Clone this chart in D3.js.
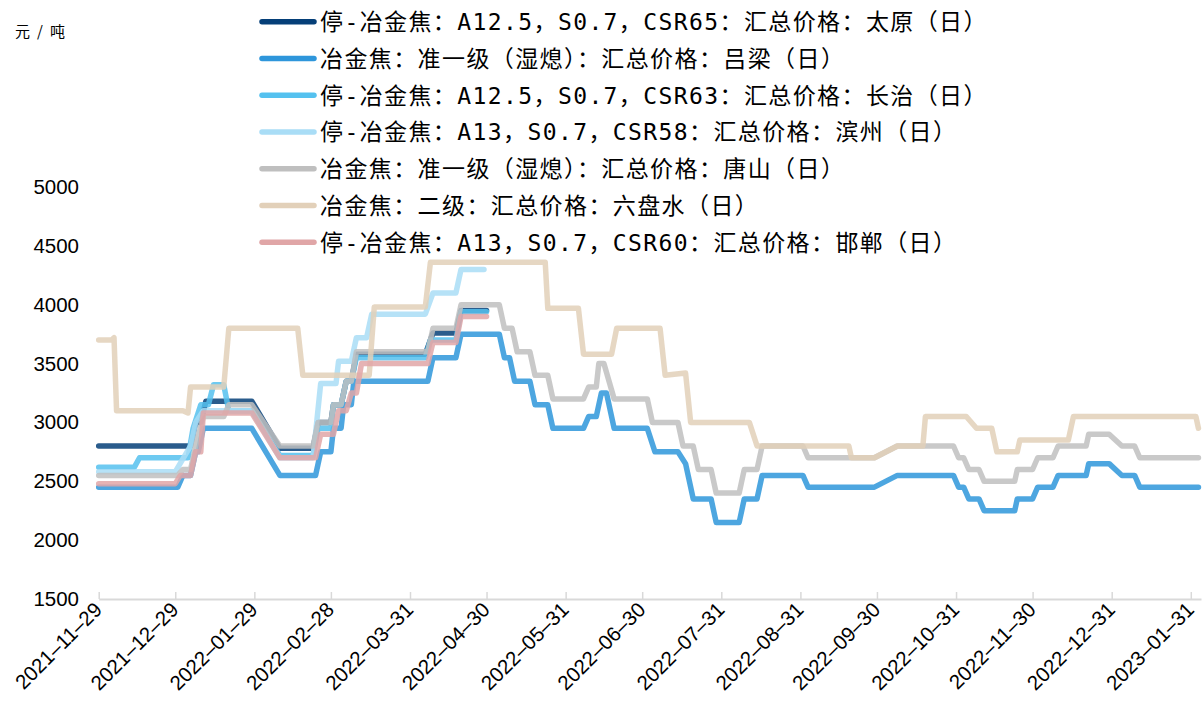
<!DOCTYPE html>
<html>
<head>
<meta charset="utf-8">
<script src="https://cdn.jsdelivr.net/npm/d3@7"></script>
<style>
  html, body { margin: 0; padding: 0; background: #ffffff; }
  svg { display: block; }
</style>
</head>
<body>
<svg id="chart" width="1202" height="712"></svg>
<script>
// ---------- data ----------
const seriesNames = [
  "停-冶金焦：A12.5，S0.7，CSR65：汇总价格：太原（日）",
  "冶金焦：准一级（湿熄）：汇总价格：吕梁（日）",
  "停-冶金焦：A12.5，S0.7，CSR63：汇总价格：长治（日）",
  "停-冶金焦：A13，S0.7，CSR58：汇总价格：滨州（日）",
  "冶金焦：准一级（湿熄）：汇总价格：唐山（日）",
  "冶金焦：二级：汇总价格：六盘水（日）",
  "停-冶金焦：A13，S0.7，CSR60：汇总价格：邯郸（日）"
];
const seriesColors = ["#053f78", "#2e96db", "#55c1ef", "#a9ddf6", "#bfbfbf", "#e2d0b9", "#e0a6a7"];

const tickDates = ["2021-11-29","2021-12-29","2022-01-29","2022-02-28","2022-03-31","2022-04-30",
  "2022-05-31","2022-06-30","2022-07-31","2022-08-31","2022-09-30","2022-10-31","2022-11-30",
  "2022-12-31","2023-01-31"];
const yTicks = [1500, 2000, 2500, 3000, 3500, 4000, 4500, 5000];
const yUnit = "元/吨";

const taiyuan = [
  ["2021-11-29",2800],["2022-01-04",2800],["2022-01-06",3000],["2022-01-08",3000],["2022-01-10",3180],
  ["2022-01-28",3180],["2022-02-08",2780],["2022-02-21",2780],["2022-02-23",3000],["2022-02-28",3000],
  ["2022-03-01",3150],["2022-03-04",3150],["2022-03-06",3350],["2022-03-08",3350],["2022-03-10",3580],
  ["2022-04-06",3580],["2022-04-09",3760],["2022-04-18",3760],["2022-04-20",3950],["2022-04-30",3950]
];
const lvliang = [
  ["2021-11-29",2450],["2021-12-30",2450],["2022-01-01",2550],["2022-01-04",2550],["2022-01-06",2750],
  ["2022-01-07",2750],["2022-01-09",2950],["2022-01-28",2950],["2022-02-08",2550],["2022-02-22",2550],
  ["2022-02-24",2750],["2022-02-28",2750],["2022-03-01",2950],["2022-03-04",2950],["2022-03-05",3150],
  ["2022-03-08",3150],["2022-03-09",3350],["2022-04-07",3350],["2022-04-09",3550],["2022-04-18",3550],
  ["2022-04-20",3750],["2022-05-05",3750],["2022-05-07",3550],["2022-05-09",3550],["2022-05-11",3350],
  ["2022-05-17",3350],["2022-05-19",3150],["2022-05-24",3150],["2022-05-26",2950],["2022-06-07",2950],
  ["2022-06-09",3050],["2022-06-12",3050],["2022-06-14",3250],["2022-06-16",3250],["2022-06-19",2950],
  ["2022-07-02",2950],["2022-07-05",2750],["2022-07-14",2750],["2022-07-17",2650],["2022-07-18",2550],
  ["2022-07-20",2350],["2022-07-27",2350],["2022-07-29",2150],["2022-08-07",2150],["2022-08-09",2350],
  ["2022-08-14",2350],["2022-08-16",2550],["2022-09-01",2550],["2022-09-03",2450],["2022-09-29",2450],
  ["2022-10-08",2550],["2022-10-30",2550],["2022-11-01",2450],["2022-11-03",2450],["2022-11-05",2350],
  ["2022-11-09",2350],["2022-11-11",2250],["2022-11-23",2250],["2022-11-24",2350],["2022-11-30",2350],
  ["2022-12-02",2450],["2022-12-08",2450],["2022-12-10",2550],["2022-12-21",2550],["2022-12-22",2650],
  ["2022-12-30",2650],["2023-01-04",2550],["2023-01-09",2550],["2023-01-11",2450],["2023-02-03",2450]
];
const changzhi = [
  ["2021-11-29",2620],["2021-12-13",2620],["2021-12-15",2700],["2022-01-03",2700],["2022-01-05",2950],
  ["2022-01-08",3150],["2022-01-11",3150],["2022-01-13",3320],["2022-01-17",3320],["2022-01-19",3100],
  ["2022-01-28",3100],["2022-02-08",2720],["2022-02-21",2720],["2022-02-23",2950],["2022-02-28",2950],
  ["2022-03-01",3150],["2022-03-04",3150],["2022-03-06",3350],["2022-03-08",3350],["2022-03-10",3550],
  ["2022-04-06",3550],["2022-04-08",3700],["2022-04-18",3700],["2022-04-20",3940],["2022-04-30",3940]
];
const binzhou = [
  ["2021-11-29",2580],["2021-12-29",2580],["2022-01-04",2800],["2022-01-06",3000],["2022-01-09",3100],
  ["2022-01-28",3100],["2022-02-08",2700],["2022-02-21",2700],["2022-02-24",3330],["2022-03-02",3330],
  ["2022-03-03",3520],["2022-03-08",3520],["2022-03-10",3720],["2022-03-14",3720],["2022-03-16",3920],
  ["2022-04-06",3920],["2022-04-09",4100],["2022-04-18",4100],["2022-04-20",4300],["2022-04-29",4300]
];
const tangshan = [
  ["2021-11-29",2550],["2021-12-30",2550],["2022-01-01",2600],["2022-01-04",2600],["2022-01-06",2800],
  ["2022-01-09",3050],["2022-01-17",3050],["2022-01-19",3150],["2022-01-28",3150],["2022-02-08",2800],
  ["2022-02-21",2800],["2022-02-23",3000],["2022-02-28",3000],["2022-03-01",3150],["2022-03-04",3150],
  ["2022-03-06",3350],["2022-03-08",3350],["2022-03-10",3600],["2022-04-07",3600],["2022-04-09",3800],
  ["2022-04-18",3800],["2022-04-20",4000],["2022-05-05",4000],["2022-05-07",3800],["2022-05-10",3800],
  ["2022-05-12",3600],["2022-05-17",3600],["2022-05-19",3400],["2022-05-24",3400],["2022-05-26",3200],
  ["2022-06-07",3200],["2022-06-09",3300],["2022-06-12",3300],["2022-06-13",3500],["2022-06-15",3500],
  ["2022-06-19",3200],["2022-07-02",3200],["2022-07-04",3000],["2022-07-14",3000],["2022-07-16",2800],
  ["2022-07-20",2800],["2022-07-22",2600],["2022-07-27",2600],["2022-07-29",2400],["2022-08-07",2400],
  ["2022-08-09",2600],["2022-08-14",2600],["2022-08-16",2800],["2022-09-01",2800],["2022-09-03",2700],
  ["2022-09-29",2700],["2022-10-08",2800],["2022-10-30",2800],["2022-11-01",2700],["2022-11-03",2700],
  ["2022-11-05",2600],["2022-11-09",2600],["2022-11-11",2500],["2022-11-23",2500],["2022-11-24",2600],
  ["2022-11-30",2600],["2022-12-02",2700],["2022-12-08",2700],["2022-12-10",2800],["2022-12-21",2800],
  ["2022-12-22",2900],["2022-12-30",2900],["2023-01-04",2800],["2023-01-09",2800],["2023-01-11",2700],
  ["2023-02-03",2700]
];
const liupanshui = [
  ["2021-11-29",3700],["2021-12-04",3700],["2021-12-05",3720],["2021-12-06",3100],["2022-01-01",3100],
  ["2022-01-03",3080],["2022-01-04",3300],["2022-01-17",3300],["2022-01-19",3800],["2022-02-15",3800],
  ["2022-02-17",3400],["2022-03-15",3400],["2022-03-17",3980],["2022-04-06",3980],["2022-04-08",4360],
  ["2022-05-23",4360],["2022-05-24",3970],["2022-06-05",3970],["2022-06-07",3580],["2022-06-18",3580],
  ["2022-06-20",3800],["2022-07-07",3800],["2022-07-09",3400],["2022-07-17",3420],["2022-07-19",3000],
  ["2022-08-11",3000],["2022-08-14",2800],["2022-09-19",2800],["2022-09-20",2700],["2022-09-29",2700],
  ["2022-10-08",2800],["2022-10-18",2800],["2022-10-19",3050],["2022-11-04",3050],["2022-11-08",2950],
  ["2022-11-14",2950],["2022-11-16",2750],["2022-11-24",2750],["2022-11-25",2850],["2022-12-14",2850],
  ["2022-12-16",3050],["2023-02-02",3050],["2023-02-03",2950]
];
const handan = [
  ["2021-11-29",2480],["2021-12-29",2480],["2021-12-31",2550],["2022-01-04",2550],["2022-01-06",2750],
  ["2022-01-08",2750],["2022-01-09",3080],["2022-01-28",3080],["2022-02-08",2700],["2022-02-22",2700],
  ["2022-02-24",2900],["2022-03-01",2900],["2022-03-03",3100],["2022-03-06",3100],["2022-03-08",3250],
  ["2022-03-10",3250],["2022-03-12",3500],["2022-04-07",3500],["2022-04-09",3680],["2022-04-18",3680],
  ["2022-04-20",3900],["2022-04-30",3900]
];
const seriesValues = [taiyuan, lvliang, changzhi, binzhou, tangshan, liupanshui, handan];

// ---------- layout ----------
const parse = d3.timeParse("%Y-%m-%d");
const svg = d3.select("#chart");
const x = d3.scaleTime()
  .domain([parse("2021-11-29"), parse("2023-02-04")])
  .range([98.7, 1201]);
const y = d3.scaleLinear().domain([1500, 5000]).range([599, 187]);

// x axis
const xAxis = d3.axisBottom(x)
  .tickValues(tickDates.map(parse))
  .tickSizeInner(-7).tickSizeOuter(0)
  .tickFormat(d3.timeFormat("%Y–%m–%d"));
const gx = svg.append("g").attr("transform", "translate(0,599)").call(xAxis);
gx.select(".domain").attr("stroke", "#d9d9d9").attr("stroke-width", 2);
gx.selectAll(".tick line").attr("stroke", "#d9d9d9").attr("stroke-width", 1.5);
gx.selectAll(".tick text")
  .attr("font-family", "'Liberation Sans', Arial, sans-serif")
  .attr("font-size", 20.5)
  .attr("fill", "#000")
  .attr("text-anchor", "end")
  .attr("dy", 0).attr("y", 0).attr("x", 0)
  .attr("transform", "translate(4,12) rotate(-45)");

// y axis
const yAxis = d3.axisLeft(y).tickValues(yTicks).tickSize(0).tickPadding(0)
  .tickFormat(d3.format("d"));
const gy = svg.append("g").attr("transform", "translate(79,0)").call(yAxis);
gy.select(".domain").remove();
gy.selectAll(".tick text")
  .attr("font-family", "'Liberation Sans', Arial, sans-serif")
  .attr("font-size", 20.5)
  .attr("fill", "#000");

// unit label
svg.append("text").attr("x", 15).attr("y", 37)
  .attr("font-family", "'Noto Sans CJK SC', sans-serif")
  .attr("font-size", 15).attr("fill", "#000")
  .attr("textLength", 50).attr("lengthAdjust", "spacing")
  .text(yUnit);

// lines
const line = d3.line()
  .x(d => x(parse(d[0])))
  .y(d => y(d[1]))
  .curve(d3.curveLinear);

svg.append("g").selectAll("path")
  .data(seriesValues)
  .join("path")
  .attr("d", line)
  .attr("fill", "none")
  .attr("stroke", (d, i) => seriesColors[i])
  .attr("stroke-opacity", 0.85)
  .attr("stroke-width", 5.5)
  .attr("stroke-linejoin", "round")
  .attr("stroke-linecap", "round");

// legend
const legend = svg.append("g");
const legY = d3.scaleLinear().domain([0, 6]).range([21.7, 242.3]);
const items = legend.selectAll("g").data(seriesNames).join("g")
  .attr("transform", (d, i) => `translate(0,${legY(i)})`);
items.append("line")
  .attr("x1", 262).attr("x2", 314).attr("y1", 0).attr("y2", 0)
  .attr("stroke", (d, i) => seriesColors[i])
  .attr("stroke-width", 5.5).attr("stroke-linecap", "round");
items.append("text")
  .attr("x", 320).attr("y", 0).attr("dy", "0.36em")
  .attr("font-family", "'DejaVu Sans Mono', 'Noto Sans CJK SC', sans-serif")
  .attr("font-size", 23)
  .attr("letter-spacing", 1.4)
  .attr("fill", "#000")
  .text(d => d);
</script>
</body>
</html>
